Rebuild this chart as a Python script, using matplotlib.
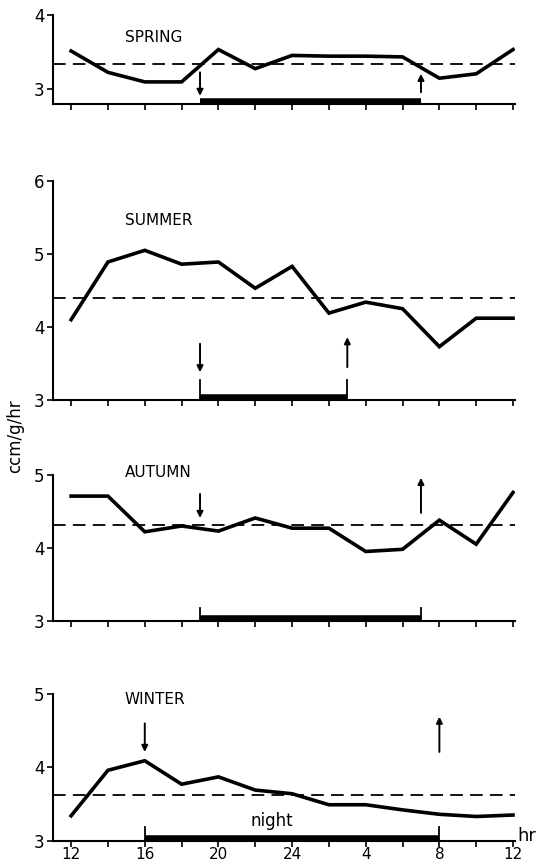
# Seasonal O2 consumption, 24 h course -> out.png
import matplotlib; matplotlib.use('Agg')
import matplotlib.pyplot as plt
import matplotlib.transforms as mtransforms

HOURS = [12, 14, 16, 18, 20, 22, 24, 26, 28, 30, 32, 34, 36]
XTICKS = [12, 16, 20, 24, 28, 32, 36]
XLABELS = ['12', '16', '20', '24', '4', '8', '12']

SEASONS = ['SPRING', 'SUMMER', 'AUTUMN', 'WINTER']
spring = [3.51, 3.22, 3.09, 3.09, 3.53, 3.27, 3.45, 3.44, 3.44, 3.43, 3.14, 3.20, 3.53]
summer = [4.10, 4.89, 5.05, 4.86, 4.89, 4.53, 4.83, 4.19, 4.34, 4.25, 3.73, 4.12, 4.12]
autumn = [4.71, 4.71, 4.22, 4.30, 4.23, 4.41, 4.27, 4.27, 3.95, 3.98, 4.38, 4.05, 4.76]
winter = [3.34, 3.96, 4.09, 3.77, 3.87, 3.69, 3.64, 3.49, 3.49, 3.42, 3.36, 3.33, 3.35]
VALUES = [spring, summer, autumn, winter]
MEANS = [3.34, 4.40, 4.32, 3.62]
NIGHT = [(19, 31), (19, 27), (19, 31), (16, 32)]
# arrows: (hour, from, to)
DOWN = [(19, 3.22, 2.90), (19, 3.77, 3.38), (19, 4.74, 4.41), (16, 4.60, 4.21)]
UP = [(31, 2.95, 3.20), (27, 3.45, 3.86), (31, 4.48, 4.96), (32, 4.21, 4.69)]
YLIMS = [(2.79, 4.0), (3, 6), (3, 5), (3, 5)]
YTICKS = [[3, 4], [3, 4, 5, 6], [3, 4, 5], [3, 4, 5]]
LABEL_Y = [3.69, 5.46, 5.04, 4.93]

RECTS = [[0.098, 0.8798, 0.859, 0.1029],
         [0.098, 0.5376, 0.859, 0.2532],
         [0.098, 0.2824, 0.859, 0.1685],
         [0.098, 0.0281, 0.859, 0.1696]]

fig = plt.figure(figsize=(5.38, 8.65), dpi=100)
for i, name in enumerate(SEASONS):
    ax = fig.add_axes(RECTS[i])
    ax.plot(HOURS, VALUES[i], color='k', lw=2.6, solid_joinstyle='miter')
    ax.axhline(MEANS[i], color='k', lw=1.3, dashes=(7, 4))
    ax.set_xlim(11.0, 36.1); ax.set_ylim(*YLIMS[i])
    for s in ['top', 'right']: ax.spines[s].set_visible(False)
    for s in ['left', 'bottom']: ax.spines[s].set_linewidth(1.5)
    ax.set_xticks(HOURS)
    ax.set_xticklabels([XLABELS[XTICKS.index(h)] if (i == 3 and h in XTICKS) else '' for h in HOURS], fontsize=11)
    ax.set_yticks(YTICKS[i]); ax.set_yticklabels([str(t) for t in YTICKS[i]], fontsize=12)
    ax.tick_params(axis='x', direction='out', length=4, width=1.2, pad=0.5)
    ax.tick_params(axis='y', direction='out', length=4, width=1.2, pad=2)
    ax.text(14.9, LABEL_Y[i], name, fontsize=11, ha='left', va='center')
    # night bar sitting on the x axis
    n0, n1 = NIGHT[i]
    tr = mtransforms.offset_copy(ax.get_xaxis_transform(), fig=fig, y=2, units='points')
    ax.plot([n0, n1], [0, 0], transform=tr, color='k', lw=4, solid_capstyle='butt', clip_on=False)
    for xe in (n0, n1):
        ax.plot([xe, xe], [0, 0.09 if i != 0 else 0.0], transform=ax.get_xaxis_transform(),
                color='k', lw=1.3, clip_on=False)
    # dusk / dawn arrows
    for (x, y0, y1) in (DOWN[i], UP[i]):
        ax.annotate('', xy=(x, y1), xytext=(x, y0),
                    arrowprops=dict(arrowstyle='-|>', color='k', lw=1.4, mutation_scale=9, shrinkA=0, shrinkB=0))
    if i == 3:
        ax.text(22.9, 3.27, 'night', fontsize=12, ha='center', va='center')

fig.text(0.028, 0.496, 'ccm/g/hr', rotation=90, fontsize=12, ha='center', va='center')
fig.text(0.962, 0.034, 'hr', fontsize=13, ha='left', va='center')
fig.savefig('out.png', dpi=100)
